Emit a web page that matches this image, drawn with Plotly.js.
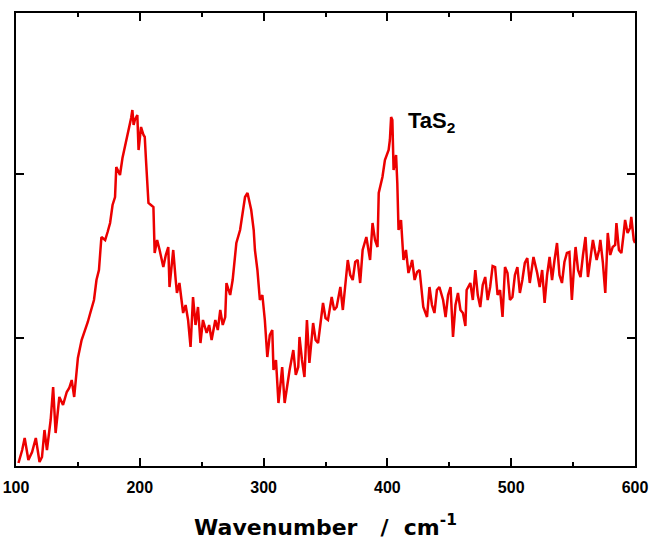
<!DOCTYPE html>
<html>
<head>
<meta charset="utf-8">
<script src="https://cdn.plot.ly/plotly-3.0.1.min.js"></script>
<style>
    body { margin: 0; background: #fff; }
    #chart { width: 656px; height: 548px; }
</style>
</head>
<body>
<div id="chart"></div>
<script>
// Raman spectrum (intensity in arbitrary units)
const wavenumber = [
    102, 105, 107, 110, 113, 116, 119, 121, 123, 125, 128, 130, 132, 135, 138, 141, 143, 145, 147, 150,
    153, 156, 158, 160, 163, 165, 167, 169, 172, 174, 176, 178, 180, 181, 184, 186, 188, 190, 191, 193,
    194, 195, 196, 198, 199, 201, 203, 204, 205, 206, 207, 209, 211, 212, 214, 216, 219, 221, 223, 224,
    227, 229, 230, 232, 234, 235, 237, 239, 241, 243, 245, 247, 249, 251, 254, 256, 258, 261, 263, 265,
    267, 269, 270, 273, 275, 278, 281, 283, 285, 287, 288, 290, 292, 293, 295, 297, 299, 301, 303, 305,
    307, 308, 310, 312, 314, 315, 317, 319, 321, 324, 326, 328, 329, 331, 333, 335, 337, 340, 342, 344,
    346, 348, 350, 352, 355, 357, 359, 362, 364, 366, 368, 370, 372, 374, 376, 378, 380, 383, 386, 388,
    390, 392, 393, 396, 398, 401, 402, 403, 404, 405, 407, 408, 409, 411, 412, 413, 415, 417, 419, 420,
    422, 424, 426, 429, 432, 434, 436, 438, 440, 442, 445, 447, 449, 451, 453, 455, 457, 459, 461, 463,
    464, 467, 469, 471, 473, 475, 477, 479, 481, 483, 485, 487, 489, 491, 493, 495, 497, 499, 501, 503,
    505, 507, 509, 511, 513, 515, 518, 521, 523, 525, 527, 529, 531, 533, 535, 537, 539, 541, 543, 545,
    547, 549, 551, 552, 554, 556, 558, 560, 562, 564, 566, 569, 571, 572, 574, 576, 578, 580, 582, 584,
    585, 587, 589, 591, 592, 594, 596, 597, 599, 600,
];
const intensity = [
    3, 16, 28, 6, 14, 28, 4, 9, 36, 16, 46, 79, 33, 69, 61, 74, 78, 86, 69, 108,
    126, 136, 144, 153, 166, 186, 196, 229, 226, 234, 243, 261, 269, 299, 291, 308, 319, 331, 338, 348,
    356, 341, 346, 351, 316, 339, 331, 329, 306, 283, 263, 261, 259, 213, 226, 216, 199, 211, 219, 179,
    216, 186, 173, 183, 166, 153, 161, 146, 119, 169, 141, 159, 123, 146, 133, 141, 126, 146, 136, 156,
    141, 149, 183, 171, 186, 223, 236, 251, 269, 273, 266, 256, 236, 216, 196, 166, 171, 146, 109, 131,
    136, 96, 106, 63, 86, 99, 63, 81, 96, 116, 91, 99, 129, 106, 89, 146, 103, 143, 126, 123,
    146, 163, 148, 146, 169, 156, 159, 179, 156, 181, 206, 191, 186, 204, 206, 183, 216, 229, 206, 243,
    226, 219, 273, 289, 306, 316, 326, 349, 346, 296, 311, 283, 236, 246, 223, 206, 216, 193, 201, 206,
    186, 194, 196, 159, 149, 179, 161, 153, 176, 179, 166, 149, 171, 179, 129, 161, 173, 156, 153, 140,
    176, 183, 166, 196, 171, 159, 181, 189, 166, 179, 200, 199, 171, 176, 149, 199, 193, 166, 169, 191,
    199, 173, 186, 203, 208, 183, 209, 193, 179, 196, 163, 191, 209, 186, 206, 223, 191, 183, 204, 213,
    214, 166, 204, 219, 196, 189, 211, 229, 189, 208, 226, 206, 216, 226, 204, 173, 233, 211, 219, 221,
    243, 216, 213, 234, 246, 233, 238, 249, 226, 223,
];

const xTicks = [100, 200, 300, 400, 500, 600];
const yTicks = [128, 292];

const fontFamily = "Liberation Sans, Arial, sans-serif";

Plotly.newPlot("chart", [{
    type: "scatter",
    mode: "lines",
    x: wavenumber,
    y: intensity,
    line: { color: "#ec0000", width: 2.5 },
    hoverinfo: "skip",
}], {
    width: 656,
    height: 548,
    margin: { l: 16, r: 21, t: 13, b: 82 },
    paper_bgcolor: "#fff",
    plot_bgcolor: "#fff",
    showlegend: false,
    xaxis: {
        range: [100, 600],
        tickvals: xTicks,
        ticktext: xTicks.map(v => "<b>" + v + "</b>"),
        ticks: "inside",
        ticklen: 8,
        tickwidth: 2,
        tickcolor: "#000",
        minor: { dtick: 50, ticks: "inside", ticklen: 4, tickwidth: 2, tickcolor: "#000" },
        ticklabelstandoff: 6,
        showline: true,
        linewidth: 2,
        linecolor: "#000",
        mirror: "ticks",
        showgrid: false,
        zeroline: false,
        tickfont: { family: fontFamily, size: 16, color: "#000" },
        title: {
            text: "<b>Wavenumber   /  cm<sup>-1</sup></b>",
            font: { family: "DejaVu Sans, sans-serif", size: 22, color: "#000" },
            standoff: 24,
        },
    },
    yaxis: {
        range: [0, 453],
        tickvals: yTicks,
        showticklabels: false,
        ticks: "inside",
        ticklen: 8,
        tickwidth: 2,
        tickcolor: "#000",
        showline: true,
        linewidth: 2,
        linecolor: "#000",
        mirror: "ticks",
        showgrid: false,
        zeroline: false,
    },
    annotations: [{
        x: 436, y: 344,
        xref: "x", yref: "y",
        text: "<b>TaS<sub>2</sub></b>",
        showarrow: false,
        font: { family: fontFamily, size: 22, color: "#000" },
    }],
}, { displayModeBar: false, staticPlot: true });
</script>
</body>
</html>
